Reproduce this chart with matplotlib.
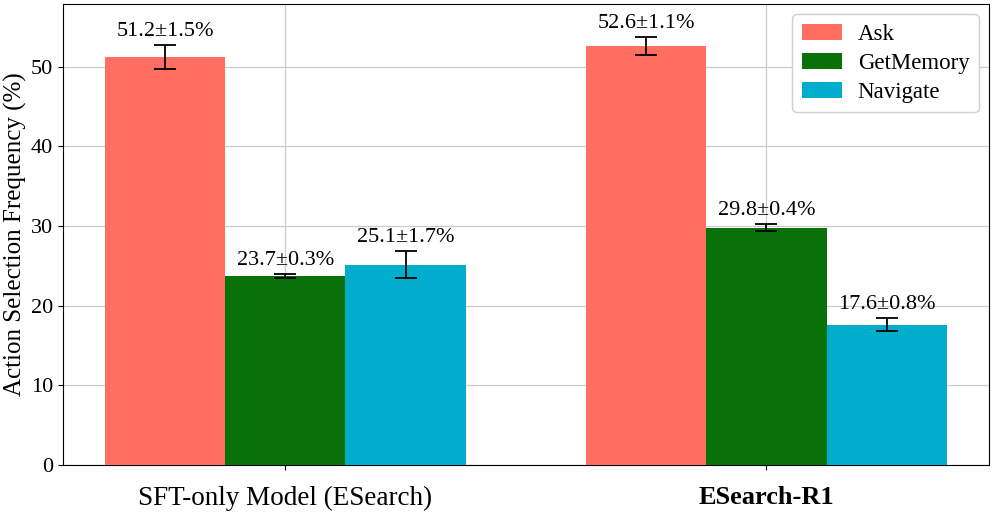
import matplotlib.pyplot as plt
import numpy as np

plt.rcParams['font.family'] = ['Liberation Serif', 'DejaVu Serif']

# data
models = ['SFT-only Model (ESearch)', 'ESearch-R1']
actions = ['Ask', 'GetMemory', 'Navigate']
ask_vals = [51.2, 52.6]
ask_err = [1.5, 1.1]
mem_vals = [23.7, 29.8]
mem_err = [0.3, 0.4]
nav_vals = [25.1, 17.6]
nav_err = [1.7, 0.8]

colors = ['#FF6F61', '#087208', '#00ADCD']

fig, ax = plt.subplots(figsize=(9.97, 5.13), dpi=100)

x = np.arange(len(models))
width = 0.25
series = [(ask_vals, ask_err), (mem_vals, mem_err), (nav_vals, nav_err)]

for i, (vals, errs) in enumerate(series):
    pos = x + (i - 1) * width
    ax.bar(pos, vals, width, yerr=errs, color=colors[i], label=actions[i],
           capsize=8, error_kw={'elinewidth': 1.3, 'capthick': 1.3, 'ecolor': 'black'},
           zorder=3)
    # value labels above the error bars
    for p, v, e in zip(pos, vals, errs):
        ax.text(p, v + e + 0.5, '%.1f\u00b1%.1f%%' % (v, e), ha='center', va='bottom',
                fontsize=16, zorder=4)

ax.set_ylim(0, max(ask_vals) * 1.1)
ax.set_ylabel('Action Selection Frequency (%)', fontsize=18, labelpad=3)
ax.set_xticks(x)
ax.set_xticklabels(models, fontsize=19.5)
ax.get_xticklabels()[1].set_fontweight('bold')
ax.get_xticklabels()[1].set_fontsize(19)
ax.tick_params(axis='y', labelsize=16)
ax.tick_params(axis='x', pad=12)
ax.grid(True, color='#cccccc', linewidth=0.9, zorder=0)
ax.set_axisbelow(True)

ax.legend(loc='upper right', fontsize=16.5, framealpha=1, edgecolor='#d0d0d0',
          handlelength=1.75, handletextpad=0.7, labelspacing=0.35,
          borderaxespad=0.45)

plt.subplots_adjust(left=0.063, right=0.992, top=0.992, bottom=0.094)
plt.savefig('out.png', dpi=100)
